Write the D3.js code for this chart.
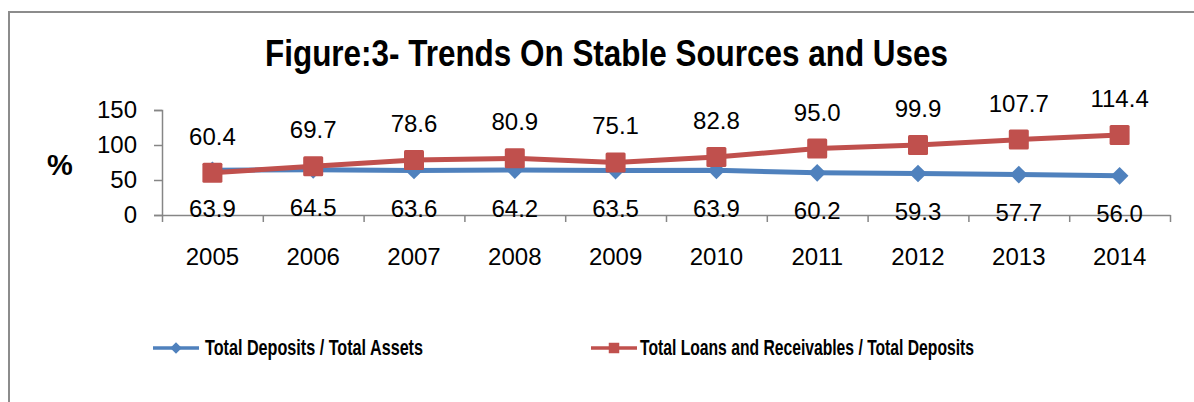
<!DOCTYPE html>
<html>
<head>
<meta charset="utf-8">
<script src="https://cdn.jsdelivr.net/npm/d3@7"></script>
<style>
  body { margin: 0; background: #fff; }
  text { font-family: "Liberation Sans", Arial, sans-serif; fill: #000; }
  .narrow { font-family: "Liberation Sans Narrow", "Arial Narrow", "Liberation Sans", sans-serif; font-weight: bold; }
  .axis path, .axis line { stroke: #868686; stroke-width: 1.5px; }
</style>
</head>
<body>
<svg id="chart" width="1194" height="402"></svg>
<script>
var years = ['2005','2006','2007','2008','2009','2010','2011','2012','2013','2014']
var depositsToAssets = [63.9, 64.5, 63.6, 64.2, 63.5, 63.9, 60.2, 59.3, 57.7, 56.0]
var loansToDeposits = [60.4, 69.7, 78.6, 80.9, 75.1, 82.8, 95.0, 99.9, 107.7, 114.4]
var yTicks = [0, 50, 100, 150]
var seriesNames = ['Total Deposits / Total Assets', 'Total Loans and Receivables / Total Deposits']

var blue = '#4F81BD', red = '#C0504D'

var svg = d3.select('#chart')

// outer frame
svg.append('rect')
  .attr('x', 9).attr('y', 12)
  .attr('width', 1250).attr('height', 450)
  .attr('fill', 'none').attr('stroke', '#8c8c8c').attr('stroke-width', 2)

// title
svg.append('text')
  .attr('class', 'narrow')
  .attr('x', 265).attr('y', 66)
  .attr('font-size', 36)
  .attr('textLength', 683).attr('lengthAdjust', 'spacingAndGlyphs')
  .text('Figure:3- Trends On Stable Sources and Uses')

var x = d3.scaleBand().domain(years).range([162, 1170])
var xEdge = d3.scaleLinear().domain([0, years.length]).range([162, 1170])
var y = d3.scaleLinear().domain([0, 150]).range([215, 110])
var cx = function(d, i) { return x(years[i]) + x.bandwidth() / 2 }

// y axis
var yAxis = svg.append('g')
  .attr('class', 'axis')
  .attr('transform', 'translate(162,0)')
  .call(d3.axisLeft(y).tickValues(yTicks).tickSize(8).tickPadding(17))
yAxis.selectAll('text').attr('font-size', 24).attr('fill', '#000')
  .attr('font-family', '"Liberation Sans", Arial, sans-serif')

// x axis (tick marks on category boundaries)
svg.append('g')
  .attr('class', 'axis')
  .attr('transform', 'translate(0,215)')
  .call(d3.axisBottom(xEdge).ticks(years.length).tickFormat('').tickSizeInner(7).tickSizeOuter(0))

// year labels
svg.append('g').selectAll('text')
  .data(years).enter().append('text')
    .attr('x', function(d) { return x(d) + x.bandwidth() / 2 })
    .attr('y', 265)
    .attr('text-anchor', 'middle')
    .attr('font-size', 24)
    .text(function(d) { return d })

// % label
svg.append('text')
  .attr('x', 60).attr('y', 175)
  .attr('text-anchor', 'middle')
  .attr('font-size', 29).attr('font-weight', 'bold')
  .text('%')

var line = d3.line()
  .x(cx)
  .y(function(d) { return y(d) })

// blue series
svg.append('path')
  .datum(depositsToAssets)
  .attr('d', line)
  .attr('fill', 'none').attr('stroke', blue).attr('stroke-width', 5)
  .attr('stroke-linejoin', 'round')

svg.append('g').selectAll('path')
  .data(depositsToAssets).enter().append('path')
    .attr('transform', function(d, i) { return 'translate(' + cx(d, i) + ',' + y(d) + ')' })
    .attr('d', d3.symbol().type(d3.symbolDiamond2).size(200))
    .attr('fill', blue)

// red series
svg.append('path')
  .datum(loansToDeposits)
  .attr('d', line)
  .attr('fill', 'none').attr('stroke', red).attr('stroke-width', 5)
  .attr('stroke-linejoin', 'round')

svg.append('g').selectAll('rect')
  .data(loansToDeposits).enter().append('rect')
    .attr('x', function(d, i) { return cx(d, i) - 10 })
    .attr('y', function(d) { return y(d) - 10 })
    .attr('width', 20).attr('height', 20)
    .attr('rx', 1.5)
    .attr('fill', red)

// data labels
svg.append('g').selectAll('text')
  .data(loansToDeposits).enter().append('text')
    .attr('x', cx)
    .attr('y', function(d) { return y(d) - 28 })
    .attr('text-anchor', 'middle')
    .attr('font-size', 24)
    .text(function(d) { return d.toFixed(1) })

svg.append('g').selectAll('text')
  .data(depositsToAssets).enter().append('text')
    .attr('x', cx)
    .attr('y', function(d) { return y(d) + 46.5 })
    .attr('text-anchor', 'middle')
    .attr('font-size', 24)
    .text(function(d) { return d.toFixed(1) })

// legend
var legend = [
  { name: seriesNames[0], color: blue, x: 153, tx: 205, tw: 218, shape: 'diamond' },
  { name: seriesNames[1], color: red, x: 591, tx: 640, tw: 334, shape: 'square' }
]
var lg = svg.append('g').selectAll('g')
  .data(legend).enter().append('g')

lg.append('line')
  .attr('x1', function(d) { return d.x }).attr('x2', function(d) { return d.x + 46 })
  .attr('y1', 348).attr('y2', 348)
  .attr('stroke', function(d) { return d.color }).attr('stroke-width', 3.5)

lg.append('path')
  .attr('transform', function(d) { return 'translate(' + (d.x + 23) + ',348)' })
  .attr('d', function(d) {
    return d.shape == 'diamond'
      ? d3.symbol().type(d3.symbolDiamond2).size(85)()
      : d3.symbol().type(d3.symbolSquare).size(110)()
  })
  .attr('fill', function(d) { return d.color })

lg.append('text')
  .attr('class', 'narrow')
  .attr('x', function(d) { return d.tx }).attr('y', 355)
  .attr('font-size', 21.5)
  .attr('textLength', function(d) { return d.tw }).attr('lengthAdjust', 'spacingAndGlyphs')
  .text(function(d) { return d.name })
</script>
</body>
</html>
